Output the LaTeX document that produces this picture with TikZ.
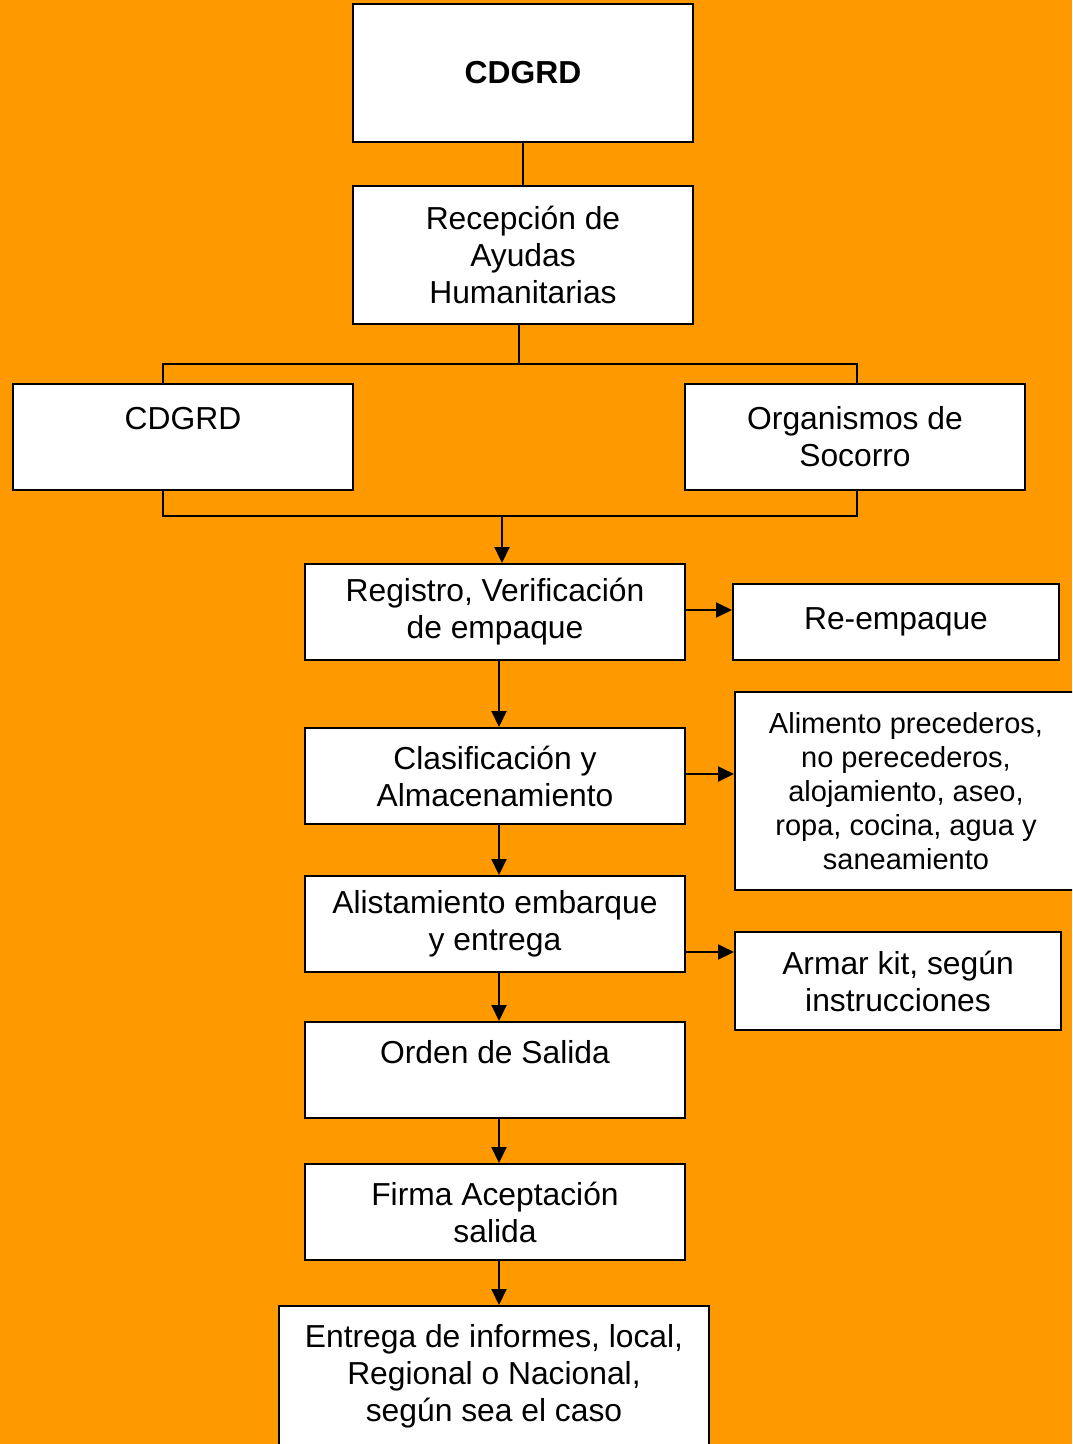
\documentclass[tikz,border=0pt]{standalone}
\usepackage{fontspec}
\setmainfont{Liberation Sans}
\usetikzlibrary{arrows.meta}
\definecolor{fondo}{HTML}{FF9900}
\begin{document}
\begin{tikzpicture}[x=1pt,y=-1pt,line width=2pt,
	caja/.style={draw,fill=white,rectangle,align=center,inner sep=0pt,
		font=\fontsize{31.8}{37}\selectfont},
	flecha/.style={-{Triangle[length=16pt,width=15pt]}}]
	\fill[fondo] (0,0) rectangle (1072,1444);
	\useasboundingbox (0,0) rectangle (1072,1444);
	\clip (0,0) rectangle (1072,1444);
	\node[caja,minimum width=340pt,minimum height=138pt,font=\fontsize{31.8}{37}\selectfont\bfseries] (cdgrd) at (523,73) {CDGRD};
	\node[caja,minimum width=340pt,minimum height=138pt] (recepcion) at (523,255) {Recepción de\\Ayudas\\Humanitarias};
	\node[caja,minimum width=340pt,minimum height=106pt] (cdgrdb) at (183,437) {CDGRD\\ \mbox{}};
	\node[caja,minimum width=340pt,minimum height=106pt] (socorro) at (855,437) {Organismos de\\Socorro};
	\node[caja,minimum width=380pt,minimum height=96pt] (registro) at (495,612) {Registro, Verificación\\de empaque};
	\node[caja,minimum width=326pt,minimum height=76pt] (reempaque) at (896,622) {Re-empaque};
	\node[caja,minimum width=380pt,minimum height=96pt] (clasif) at (495,776) {Clasificación y\\Almacenamiento};
	\node[caja,minimum width=342pt,minimum height=198pt,font=\fontsize{29}{34}\selectfont] (alimento) at (906,791) {Alimento precederos,\\no perecederos,\\alojamiento, aseo,\\ropa, cocina, agua y\\saneamiento};
	\node[caja,minimum width=380pt,minimum height=96pt] (alista) at (495,924) {Alistamiento embarque\\y entrega};
	\node[caja,minimum width=326pt,minimum height=98pt] (kit) at (898,981) {Armar kit, según\\instrucciones};
	\node[caja,minimum width=380pt,minimum height=96pt] (orden) at (495,1070) {Orden de Salida\\ \mbox{}};
	\node[caja,minimum width=380pt,minimum height=96pt] (firma) at (495,1212) {Firma Aceptación\\salida};
	\node[caja,minimum width=430pt,minimum height=170pt] (entrega) at (494,1391) {Entrega de informes, local,\\Regional o Nacional,\\según sea el caso\\ \mbox{}};
	\coordinate (ramal) at (519,364);
	\coordinate (union) at (502,516);
	\draw (cdgrd) -- (recepcion);
	\draw (recepcion.south -| ramal) -- (ramal) -| ([xshift=-20pt]cdgrdb.north);
	\draw (ramal) -| ([xshift=2pt]socorro.north);
	\draw ([xshift=-20pt]cdgrdb.south) |- (union) -| ([xshift=2pt]socorro.south);
	\draw[flecha] (union) -- (union |- registro.north);
	\draw[flecha] ([xshift=4pt]registro.south) -- ([xshift=4pt]clasif.north);
	\draw[flecha] ([xshift=4pt]clasif.south) -- ([xshift=4pt]alista.north);
	\draw[flecha] ([xshift=4pt]alista.south) -- ([xshift=4pt]orden.north);
	\draw[flecha] ([xshift=4pt]orden.south) -- ([xshift=4pt]firma.north);
	\draw[flecha] ([xshift=4pt]firma.south) -- ([xshift=4pt]entrega.north -| firma.south);
	\draw[flecha] ([yshift=2pt]registro.east) -- ([yshift=2pt]registro.east -| reempaque.west);
	\draw[flecha] ([yshift=2pt]clasif.east) -- ([yshift=2pt]clasif.east -| alimento.west);
	\draw[flecha] ([yshift=-28pt]alista.east) -- ([yshift=-28pt]alista.east -| kit.west);
\end{tikzpicture}
\end{document}
